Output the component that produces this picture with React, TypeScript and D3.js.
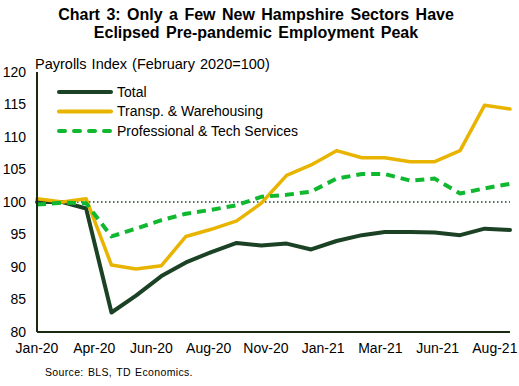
import React from "react";
import * as d3 from "d3";

const months = [
  "2020-01","2020-02","2020-03","2020-04","2020-05","2020-06","2020-07","2020-08","2020-09","2020-10",
  "2020-11","2020-12","2021-01","2021-02","2021-03","2021-04","2021-05","2021-06","2021-07","2021-08",
];
const total = [100.0, 100.0, 99.0, 83.0, 85.6, 88.6, 90.7, 92.3, 93.7, 93.3, 93.6, 92.7, 94.0, 94.9, 95.4, 95.4, 95.3, 94.9, 95.9, 95.7];
const transp = [100.5, 100.0, 100.5, 90.3, 89.7, 90.2, 94.7, 95.8, 97.1, 99.8, 104.1, 105.7, 107.9, 106.8, 106.8, 106.2, 106.2, 107.9, 114.9, 114.3];
const prof = [99.6, 99.9, 99.8, 94.7, 95.9, 97.2, 98.2, 98.8, 99.5, 100.8, 101.1, 101.6, 103.6, 104.3, 104.3, 103.3, 103.6, 101.3, 102.1, 102.8];
const xTickLabels = ["Jan-20","Apr-20","Jun-20","Aug-20","Nov-20","Jan-21","Mar-21","Jun-21","Aug-21"];
const yTicks = [80, 85, 90, 95, 100, 105, 110, 115, 120];
const seriesNames = ["Total", "Transp. & Warehousing", "Professional & Tech Services"];

const W = 519, H = 386;
const M = { left: 37, right: 9, top: 72, bottom: 54 };
const FONT = "'Liberation Sans', Arial, sans-serif";

export default function App() {
  const parse = d3.timeParse("%Y-%m");
  const dates = months.map((m) => parse(m) as Date);
  const x = d3.scaleTime().domain(d3.extent(dates) as [Date, Date]).range([M.left, W - M.right]);
  const y = d3.scaleLinear().domain([80, 120]).range([H - M.bottom, M.top]);
  const xl = d3.scalePoint<string>().domain(xTickLabels).range([M.left, M.left + (W - M.right - M.left) * 0.968]);
  const line = d3.line<number>().x((_, i) => x(dates[i])).y((d) => y(d)).curve(d3.curveLinear);

  const colors = ["#1B4224", "#E8B400", "#10B830"];
  const widths = [4, 3.5, 4];
  const dashes = [undefined, undefined, "9 6"];
  const data = [total, transp, prof];

  return (
    <svg width={W} height={H} style={{ position: "absolute", left: 0, top: 0, fontFamily: FONT }}>
      <rect width={W} height={H} fill="#fff" />
      <text x={256} y={20} textAnchor="middle" fontSize={16} fontWeight="bold" fill="#000" wordSpacing={2}>
        Chart 3: Only a Few New Hampshire Sectors Have
      </text>
      <text x={256} y={38} textAnchor="middle" fontSize={16} fontWeight="bold" fill="#000" wordSpacing={2}>
        Eclipsed Pre-pandemic Employment Peak
      </text>
      <text x={35} y={68.5} fontSize={14.5} fill="#000" wordSpacing={1}>Payrolls Index (February 2020=100)</text>

      {yTicks.map((t) => (
        <text key={t} x={26} y={y(t)} dy="0.35em" textAnchor="end" fontSize={14} fill="#000">{t}</text>
      ))}
      {xTickLabels.map((l) => (
        <text key={l} x={xl(l)} y={353} textAnchor="middle" fontSize={14} fill="#000">{l}</text>
      ))}

      <line x1={M.left} x2={W - M.right} y1={y(100)} y2={y(100)} stroke="#1B4224" strokeWidth={1.3} strokeDasharray="1.5 2.5" />

      {data.map((d, i) => (
        <path key={i} d={line(d) || ""} fill="none" stroke={colors[i]} strokeWidth={widths[i]}
          strokeDasharray={dashes[i]} strokeLinejoin="round" strokeLinecap={i === 2 ? "butt" : "round"} />
      ))}

      <line x1={M.left} x2={M.left} y1={M.top} y2={H - M.bottom} stroke="#1a2a10" strokeWidth={2} />
      <line x1={M.left} x2={W - M.right} y1={H - M.bottom} y2={H - M.bottom} stroke="#1a2a10" strokeWidth={2} />

      {seriesNames.map((n, i) => {
        const ly = 92 + i * 19.5;
        return (
          <g key={n}>
            <line x1={59} x2={111} y1={ly} y2={ly} stroke={colors[i]} strokeWidth={4}
              strokeLinecap="round" strokeDasharray={i === 2 ? "6 9" : undefined} />
            <text x={117} y={ly} dy="0.35em" fontSize={14} fill="#000">{n}</text>
          </g>
        );
      })}

      <text x={45} y={376} fontSize={10.5} fill="#000" letterSpacing={0.35} wordSpacing={1}>Source: BLS, TD Economics.</text>
    </svg>
  );
}
